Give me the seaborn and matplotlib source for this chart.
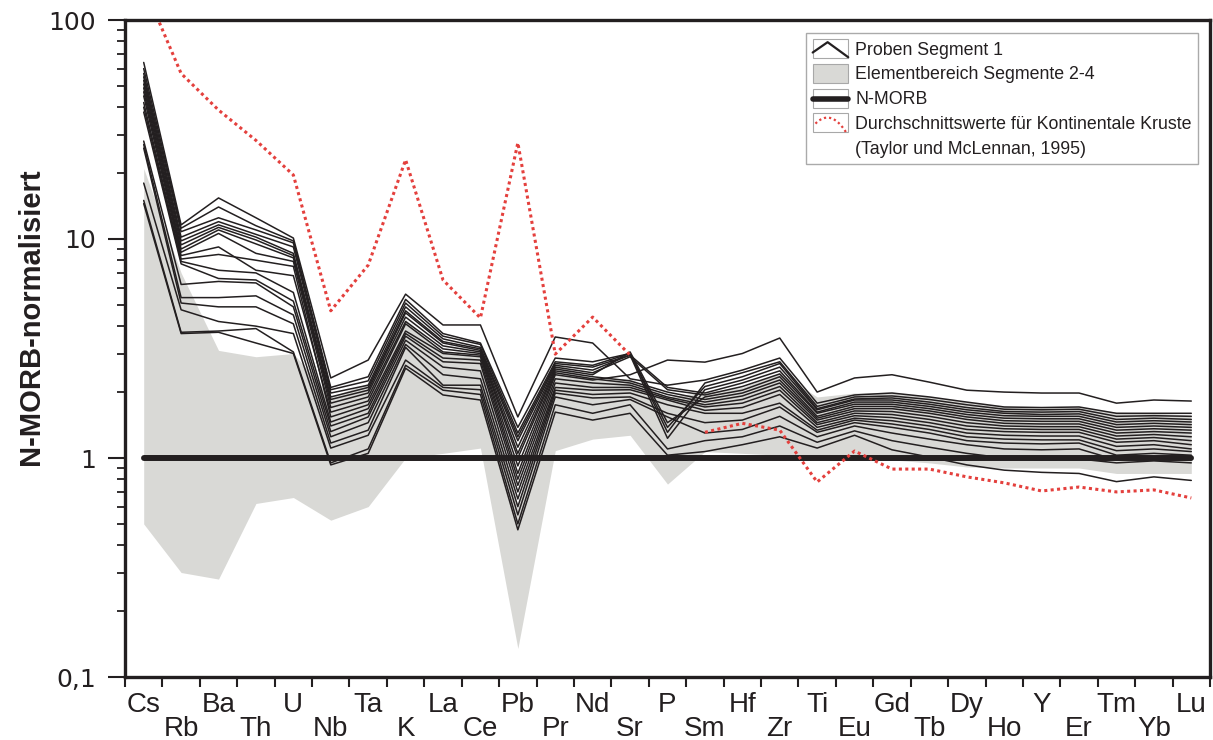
import numpy as np
import pandas as pd
import matplotlib
matplotlib.use("Agg")
import matplotlib.pyplot as plt
import seaborn as sns
from matplotlib.patches import Rectangle
from matplotlib.lines import Line2D
from matplotlib.legend_handler import HandlerBase
from matplotlib.ticker import FixedLocator, FixedFormatter, NullFormatter

# ---------------- data ----------------
elements = ["Cs", "Rb", "Ba", "Th", "U", "Nb", "Ta", "K", "La", "Ce", "Pb", "Pr", "Nd", "Sr",
            "P", "Sm", "Hf", "Zr", "Ti", "Eu", "Gd", "Tb", "Dy", "Ho", "Y", "Er", "Tm", "Yb", "Lu"]

# average continental crust (Taylor & McLennan 1995), N-MORB normalised; no value for P
crust = [143, 57, 38.8, 28.2, 19.6, 4.7, 7.6, 23, 6.5, 4.36, 27.5, 2.98, 4.4, 2.95, np.nan,
         1.31, 1.44, 1.34, 0.777, 1.076, 0.89, 0.89, 0.82, 0.77, 0.707, 0.737, 0.70, 0.715, 0.657]

# N-MORB reference
nmorb = [1.0] * 29

# element range of segments 2-4 (grey band)
band_upper = [21, 7.0, 3.1, 2.9, 3.0, 1.9, 2.2, 4.3, 3.0, 2.9, 0.6, 2.7, 2.3, 2.3, 1.9,
              2.0, 2.1, 2.45, 1.9, 1.98, 2.0, 1.9, 1.8, 1.72, 1.71, 1.71, 1.62, 1.6, 1.57]
band_lower = [0.5, 0.30, 0.28, 0.62, 0.66, 0.52, 0.60, 1.0, 1.05, 1.11, 0.135, 1.08, 1.22, 1.27, 0.76,
              1.07, 1.05, 1.03, 1.0, 1.0, 0.98, 0.95, 0.91, 0.9, 0.9, 0.9, 0.85, 0.85, 0.85]

# samples of segment 1 (one list per sample, in element order)
segment1_samples = [
    [64, 11.6, 15.4, 12.5, 10.1, 2.32, 2.8, 5.6, 4.05, 4.05, 1.54, 3.57, 3.35, 2.3, 2.15, 2.27, 2.52, 2.86, 1.78, 1.94, 1.98, 1.9, 1.8, 1.71, 1.7, 1.71, 1.6, 1.6, 1.6],
    [60, 11.2, 14, 11.5, 9.8, 2.1, 2.35, 5.3, 3.7, 3.35, 1.38, 2.86, 2.75, 3.0, 1.31, 2.2, 2.45, 2.75, 1.72, 1.9, 1.92, 1.85, 1.75, 1.67, 1.66, 1.67, 1.55, 1.56, 1.55],
    [57, 10.8, 12.5, 11, 9.6, 2.05, 2.25, 5.1, 3.6, 3.3, 1.3, 2.75, 2.65, 3.0, 1.38, 2.12, 2.35, 2.7, 1.68, 1.86, 1.88, 1.8, 1.7, 1.63, 1.62, 1.63, 1.5, 1.52, 1.5],
    [55, 10.2, 12, 10.5, 9.2, 1.98, 2.15, 4.9, 3.5, 3.2, 1.25, 2.7, 2.6, 2.95, 1.23, 2.05, 2.27, 2.6, 1.66, 1.84, 1.84, 1.76, 1.66, 1.6, 1.58, 1.59, 1.46, 1.48, 1.46],
    [53, 9.8, 11.6, 10.2, 8.6, 1.9, 2.1, 4.7, 3.4, 3.15, 1.2, 2.65, 2.52, 2.95, 2.1, 1.98, 2.2, 2.5, 1.62, 1.8, 1.8, 1.72, 1.62, 1.56, 1.55, 1.55, 1.42, 1.44, 1.42],
    [51, 9.4, 11.3, 9.9, 8.4, 1.85, 2.04, 4.6, 3.35, 3.1, 1.12, 2.6, 2.45, 2.9, 2.05, 1.94, 2.12, 2.42, 1.6, 1.76, 1.76, 1.68, 1.58, 1.52, 1.51, 1.51, 1.38, 1.4, 1.38],
    [49, 9.0, 11, 9.5, 8.2, 1.78, 1.98, 4.4, 3.25, 3.05, 1.05, 2.55, 2.4, 3.05, 1.45, 1.9, 2.04, 2.35, 1.55, 1.72, 1.72, 1.64, 1.54, 1.48, 1.47, 1.47, 1.34, 1.36, 1.34],
    [47, 8.7, 10.6, 8.6, 7.9, 1.7, 1.9, 4.2, 3.15, 3.0, 1.0, 2.5, 2.35, 2.25, 2.0, 1.85, 1.98, 2.27, 1.52, 1.68, 1.68, 1.6, 1.5, 1.44, 1.43, 1.43, 1.3, 1.32, 1.3],
    [45, 8.4, 9.2, 7.2, 6.8, 1.62, 1.82, 4.1, 3.05, 2.95, 0.92, 2.45, 2.3, 2.2, 1.95, 1.8, 1.92, 2.2, 1.49, 1.64, 1.63, 1.55, 1.45, 1.4, 1.39, 1.39, 1.26, 1.28, 1.25],
    [40, 7.9, 7.2, 7.0, 5.7, 1.46, 1.68, 3.7, 2.86, 2.8, 0.8, 2.3, 2.2, 2.15, 1.9, 1.75, 1.85, 2.12, 1.45, 1.6, 1.58, 1.5, 1.4, 1.36, 1.35, 1.35, 1.22, 1.24, 1.2],
    [38, 7.7, 6.6, 6.5, 5.2, 1.4, 1.6, 3.6, 2.75, 2.7, 0.75, 2.2, 2.1, 2.1, 1.87, 1.71, 1.78, 2.04, 1.42, 1.56, 1.53, 1.45, 1.35, 1.32, 1.31, 1.31, 1.18, 1.2, 1.15],
    [28, 6.2, 6.4, 6.3, 4.9, 1.32, 1.54, 3.45, 2.6, 2.5, 0.7, 2.1, 2.04, 2.05, 1.84, 1.65, 1.7, 1.95, 1.38, 1.52, 1.48, 1.4, 1.3, 1.27, 1.26, 1.26, 1.13, 1.15, 1.1],
    [27, 5.4, 5.4, 5.5, 4.5, 1.25, 1.45, 3.3, 2.4, 2.3, 0.65, 2.04, 1.95, 1.98, 1.75, 1.6, 1.6, 1.78, 1.34, 1.49, 1.43, 1.35, 1.25, 1.22, 1.21, 1.21, 1.08, 1.1, 1.07],
    [26, 5.1, 4.9, 4.9, 4.1, 1.17, 1.34, 3.2, 2.15, 2.15, 0.6, 1.98, 1.88, 1.9, 1.6, 1.45, 1.49, 1.71, 1.31, 1.45, 1.38, 1.3, 1.2, 1.17, 1.16, 1.17, 1.03, 1.05, 1.03],
    [18, 4.75, 4.2, 4.0, 3.7, 1.11, 1.27, 2.8, 2.1, 2.05, 0.55, 1.9, 1.75, 1.85, 1.54, 1.3, 1.35, 1.55, 1.25, 1.4, 1.3, 1.22, 1.15, 1.1, 1.09, 1.1, 0.98, 1.0, 0.98],
    [15, 3.75, 3.8, 3.9, 3.05, 0.95, 1.1, 2.65, 2.04, 1.95, 0.5, 1.75, 1.6, 1.75, 1.1, 1.2, 1.25, 1.4, 1.18, 1.33, 1.2, 1.12, 1.05, 1.0, 0.98, 0.99, 0.95, 0.97, 0.95],
    [14.5, 3.7, 3.75, 3.35, 3.0, 0.93, 1.05, 2.57, 1.94, 1.84, 0.47, 1.62, 1.49, 1.6, 1.03, 1.07, 1.15, 1.25, 1.11, 1.27, 1.09, 1.01, 0.93, 0.88, 0.86, 0.85, 0.78, 0.82, 0.79],
    [42, 8.1, 8.5, 8.0, 7.5, 1.54, 1.75, 3.8, 3.0, 2.9, 0.85, 2.4, 2.27, 2.4, 2.8, 2.74, 3.0, 3.53, 2.0, 2.32, 2.4, 2.22, 2.04, 2.0, 1.98, 1.98, 1.78, 1.84, 1.82],
]

y_ticks = [0.1, 1, 10, 100]
y_tick_labels = ["0,1", "1", "10", "100"]

legend_labels = ["Proben Segment 1", "Elementbereich Segmente 2-4", "N-MORB",
                 "Durchschnittswerte für Kontinentale Kruste", "(Taylor und McLennan, 1995)"]

# ---------------- style ----------------
LINE = "#231f20"
GREY = "#d9d9d6"
RED = "#e4403d"

sns.set_style("ticks")
plt.rcParams["font.family"] = ["Liberation Sans", "DejaVu Sans"]

fig = plt.figure(figsize=(12.13, 7.40), dpi=100)
ax = fig.add_axes([125 / 1213, 63 / 740, 1085 / 1213, 657 / 740])
ax.set_yscale("log")

x = np.arange(len(elements))

# grey band
ax.fill_between(x, band_lower, band_upper, color=GREY, lw=0, zorder=1)

# sample lines
rows = []
for i, s in enumerate(segment1_samples):
    for xi, v in zip(x, s):
        rows.append((i, xi, v))
df = pd.DataFrame(rows, columns=["sample", "pos", "value"])
sns.lineplot(data=df, x="pos", y="value", units="sample", estimator=None,
             color=LINE, lw=1.1, ax=ax, legend=False, zorder=3)

# N-MORB line
sns.lineplot(x=x, y=nmorb, color=LINE, lw=4.3, ax=ax, zorder=4)

n_before = len(ax.lines)
# continental crust (broken where no value)
seg = np.cumsum(np.isnan(np.array(crust, dtype=float)))
dfc = pd.DataFrame({"pos": x, "value": crust, "seg": seg}).dropna()
sns.lineplot(data=dfc, x="pos", y="value", units="seg", estimator=None, color=RED,
             lw=2.2, ax=ax, legend=False, zorder=5)
for l in ax.lines[n_before:]:
    l.set_linestyle((0, (1, 1.1)))

# axes limits and ticks
ax.set_xlim(-0.5, 28.5)
ax.set_ylim(0.1, 100)
ax.set_xlabel("")

ax.yaxis.set_major_locator(FixedLocator(y_ticks))
ax.yaxis.set_major_formatter(FixedFormatter(y_tick_labels))
minor = [m * 10.0 ** e for e in range(-1, 2) for m in range(2, 10)]
ax.yaxis.set_minor_locator(FixedLocator(minor))
ax.yaxis.set_minor_formatter(NullFormatter())
ax.tick_params(axis="y", which="major", direction="out", length=12, width=1.5,
               color=LINE, pad=9, labelsize=18, labelcolor=LINE)
ax.tick_params(axis="y", which="minor", direction="out", length=6, width=1.3, color=LINE)
for t in ax.get_yticklabels():
    t.set_fontfamily("DejaVu Sans")

even = [i for i in x if i % 2 == 0]
odd = [i for i in x if i % 2 == 1]
ax.set_xticks(even, [elements[i] for i in even])
ax.set_xticks(odd, [elements[i] for i in odd], minor=True)
ax.tick_params(axis="x", which="major", length=0, pad=11, labelsize=20, labelcolor=LINE)
ax.tick_params(axis="x", which="minor", length=0, pad=28, labelsize=20, labelcolor=LINE)

sec = ax.secondary_xaxis("bottom")
sec.set_xticks(np.arange(-0.5, 29, 1.0))
sec.tick_params(axis="x", direction="out", length=7, width=1.5, color=LINE, labelbottom=False)
sec.spines["bottom"].set_visible(False)

for sp in ax.spines.values():
    sp.set_visible(True)
    sp.set_linewidth(2.4)
    sp.set_color(LINE)

ax.set_ylabel("N-MORB-normalisiert", fontsize=21, fontweight="bold", color=LINE)
ax.yaxis.set_label_coords(-0.074, 0.549)


# ---------------- legend ----------------
class BoxHandler(HandlerBase):
    def __init__(self, kind):
        super().__init__()
        self.kind = kind

    def create_artists(self, legend, orig_handle, xdescent, ydescent, width, height, fontsize, trans):
        x0, y0 = -xdescent, -ydescent
        if self.kind == "blank":
            return [Rectangle((x0, y0), width, height, fill=False, lw=0, visible=False,
                              transform=trans)]
        fc = GREY if self.kind == "patch" else "white"
        arts = [Rectangle((x0, y0), width, height, facecolor=fc, edgecolor="#a8a8a8",
                          lw=0.8, transform=trans)]
        if self.kind == "caret":
            arts.append(Line2D([x0, x0 + width * 0.42, x0 + width],
                               [y0 + height * 0.3, y0 + height * 0.85, y0 + height * 0.05],
                               color=LINE, lw=1.6, transform=trans))
        elif self.kind == "thick":
            arts.append(Line2D([x0, x0 + width], [y0 + height * 0.45] * 2,
                               color=LINE, lw=4.0, transform=trans))
        elif self.kind == "dots":
            t = np.linspace(0, 1, 30)
            xs = x0 + 2 + t * (width - 3)
            ys = y0 + height * (0.78 - 2.2 * (t - 0.38) ** 2)
            arts.append(Line2D(xs, ys, color=RED, lw=1.6, linestyle=(0, (1, 1.3)), transform=trans))
        return arts


handles = [Rectangle((0, 0), 1, 1) for _ in legend_labels]
kinds = ["caret", "patch", "thick", "dots", "blank"]
hmap = {h: BoxHandler(k) for h, k in zip(handles, kinds)}

leg = ax.legend(handles, legend_labels, handler_map=hmap, loc="upper right",
                bbox_to_anchor=(0.989, 0.980), borderaxespad=0, fontsize=12.8,
                frameon=True, fancybox=False, framealpha=1, edgecolor="#aaaaaa",
                handlelength=2.0, handleheight=1.25, handletextpad=0.4,
                labelspacing=0.3, borderpad=0.35)
leg.get_frame().set_linewidth(1.0)
for t in leg.get_texts():
    t.set_color(LINE)

fig.savefig("out.png", dpi=100)
